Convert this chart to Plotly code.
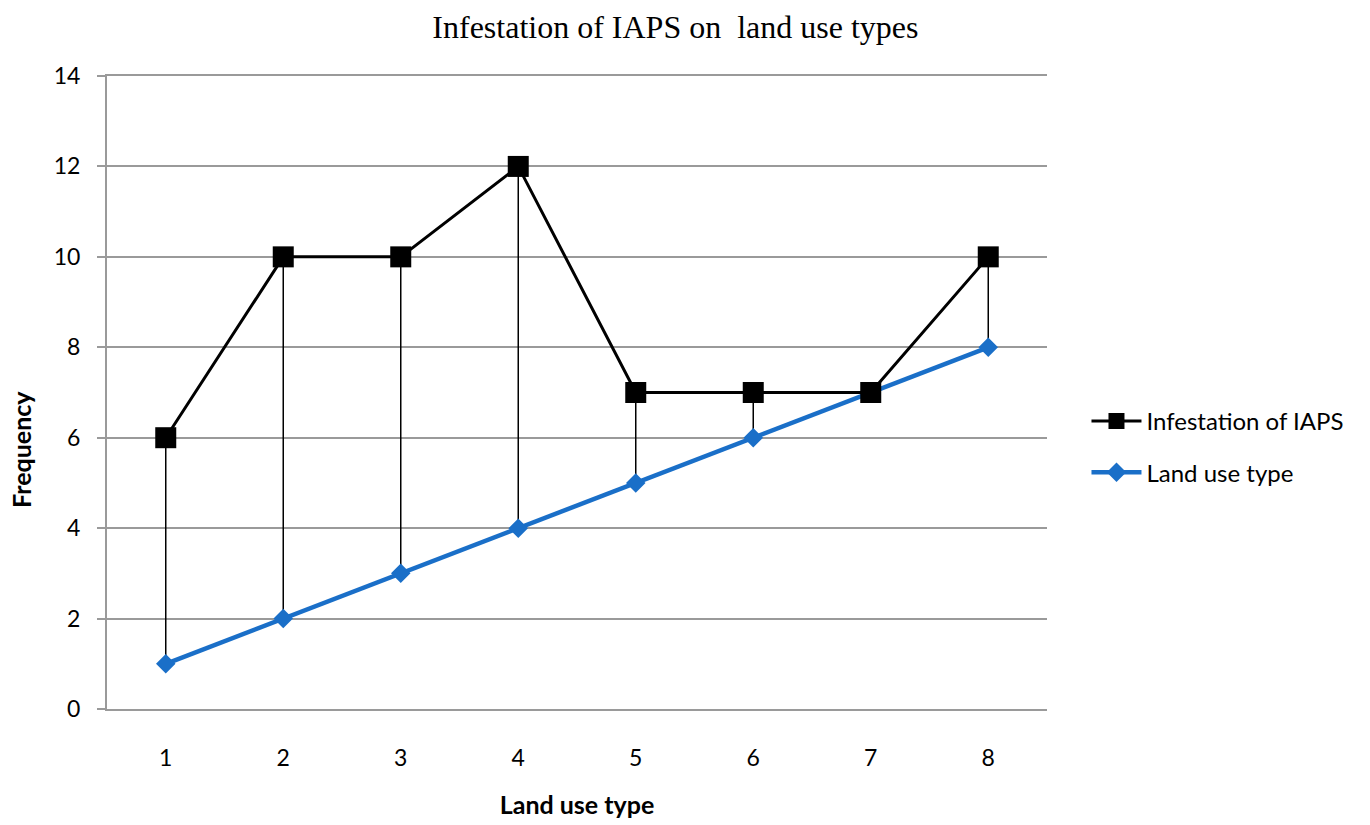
import plotly.graph_objects as go

# Land use categories and the two series plotted against them
categories = [1, 2, 3, 4, 5, 6, 7, 8]
infestation = [6, 10, 10, 12, 7, 7, 7, 10]
land_use = [1, 2, 3, 4, 5, 6, 7, 8]
y_ticks = [0, 2, 4, 6, 8, 10, 12, 14]

label_font = "Lato, 'Liberation Sans', sans-serif"
grey = "#9a9a9a"

# High-low connector lines between the two series at each category
hl_x, hl_y = [], []
for c, a, b in zip(categories, infestation, land_use):
    hl_x += [c, c, None]
    hl_y += [b, a, None]

fig = go.Figure()
fig.add_trace(go.Scatter(
    x=hl_x, y=hl_y, mode="lines",
    line=dict(color="black", width=1.5),
    showlegend=False, hoverinfo="skip",
))
fig.add_trace(go.Scatter(
    x=categories, y=land_use, mode="lines+markers", name="Land use type",
    line=dict(color="#1a6fc8", width=4.5),
    marker=dict(symbol="diamond", size=15, color="#1a6fc8"),
    legendgroup="b", legendrank=2,
))
fig.add_trace(go.Scatter(
    x=categories, y=infestation, mode="lines+markers", name="Infestation of IAPS",
    line=dict(color="black", width=3),
    marker=dict(symbol="square", size=21, color="black"),
    legendgroup="a", legendrank=1,
))

fig.update_layout(
    width=1370, height=825,
    paper_bgcolor="white", plot_bgcolor="white",
    margin=dict(l=107, r=323, t=76, b=116),
    title=dict(
        text="Infestation of IAPS on  land use types",
        font=dict(family="'Liberation Serif', 'DejaVu Serif', serif", size=32, color="black"),
        x=0.493, xanchor="center", y=0.968, yanchor="middle",
    ),
    legend=dict(
        x=1.042, xanchor="left", y=0.49, yanchor="top",
        font=dict(family=label_font, size=24, color="black"),
        tracegroupgap=17, itemwidth=50,
    ),
    showlegend=True,
    annotations=[dict(
        text="<b>Frequency</b>", textangle=-90,
        xref="paper", yref="paper", x=-0.091, y=0.41,
        xanchor="center", yanchor="middle", showarrow=False,
        font=dict(family=label_font, size=25, color="black"),
    )],
)
fig.update_xaxes(
    range=[0.5, 8.5], tickvals=categories, ticktext=[str(c) for c in categories],
    showgrid=False, showline=True, linecolor=grey, linewidth=2, mirror=True,
    ticks="", ticklabelstandoff=27, zeroline=False, automargin=False,
    tickfont=dict(family=label_font, size=23, color="black"),
    title=dict(text="<b>Land use type</b>", standoff=27,
               font=dict(family=label_font, size=25, color="black")),
)
fig.update_yaxes(
    range=[0, 14], tickvals=y_ticks,
    showgrid=True, gridcolor=grey, gridwidth=1.5,
    showline=True, linecolor=grey, linewidth=2,
    ticks="outside", ticklen=8, tickcolor=grey, tickwidth=1.5, zeroline=False,
    ticklabelstandoff=12, automargin=False,
    tickfont=dict(family=label_font, size=23, color="black"),
)

fig.write_html("out.html")
